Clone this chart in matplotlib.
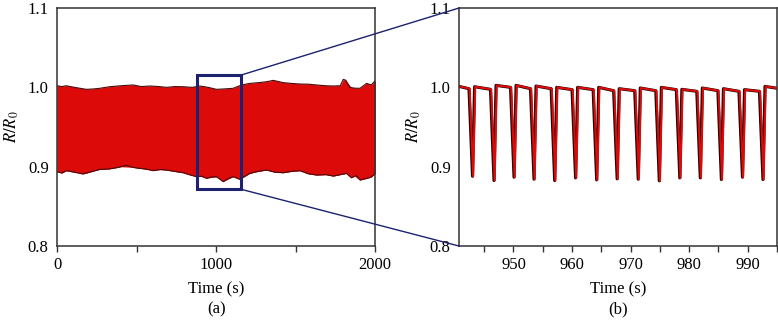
import numpy as np
import matplotlib
matplotlib.use('Agg')
from matplotlib import pyplot as plt
from matplotlib.patches import Rectangle, ConnectionPatch

plt.rcParams['font.family'] = ['Liberation Serif', 'DejaVu Serif']
plt.rcParams['mathtext.fontset'] = 'stix'
plt.rcParams['font.size'] = 12

# Panel (a): envelope of the dense 2000 s signal
env_t = [0, 30, 58, 110, 184, 230, 268, 331, 400, 478, 530, 583, 640, 688, 740, 792, 850,
         897, 950, 1002, 1050, 1107, 1160, 1212, 1270, 1317, 1359, 1420, 1470, 1527, 1580,
         1631, 1690, 1736, 1780, 1799, 1815, 1841, 1870, 1904, 1946, 1975, 2000]
env_top = [1.002, 1.001, 1.002, 1.000, 0.9975, 0.998, 0.9988, 1.0008, 1.002, 1.003, 1.001,
           1.0017, 1.001, 1.000, 1.001, 1.0008, 1.000, 1.0017, 1.000, 0.9975, 0.998, 0.9988,
           1.003, 1.005, 1.006, 1.0071, 1.0088, 1.006, 1.005, 1.0042, 1.004, 1.003, 1.002,
           1.0017, 1.002, 1.010, 1.009, 1.000, 0.999, 0.9988, 1.005, 1.003, 1.0084]
bot_t = [0, 30, 58, 110, 163, 220, 268, 320, 373, 436, 480, 520, 560, 604, 650, 688, 740,
         792, 830, 876, 910, 939, 970, 1002, 1044, 1075, 1107, 1149, 1180, 1212, 1260, 1317,
         1370, 1422, 1470, 1527, 1580, 1631, 1690, 1736, 1780, 1820, 1850, 1880, 1904, 1946,
         1975, 2000]
env_bot = [0.8937, 0.892, 0.895, 0.893, 0.8908, 0.894, 0.8966, 0.897, 0.8987, 0.9017, 0.899,
           0.8979, 0.897, 0.895, 0.8965, 0.8958, 0.894, 0.8924, 0.890, 0.8874, 0.888, 0.8853,
           0.887, 0.8874, 0.8811, 0.885, 0.8874, 0.884, 0.888, 0.8916, 0.894, 0.8958, 0.893,
           0.8924, 0.894, 0.895, 0.891, 0.8895, 0.890, 0.8882, 0.890, 0.8916, 0.886, 0.889,
           0.8832, 0.8853, 0.887, 0.8916]

# Panel (b): zoomed cycles
dip_t = [943.0, 946.67, 950.09, 953.5, 957.03, 960.6, 964.2, 967.7, 971.3, 974.9,
         978.4, 981.9, 985.5, 989.1, 992.6]
dip_min = [0.8879, 0.8825, 0.8867, 0.8842, 0.8825, 0.8858, 0.8833, 0.8846, 0.8842,
           0.8821, 0.8858, 0.8858, 0.8838, 0.8867, 0.8838]
plat_start = [1.0012, 1.0008, 1.0025, 1.0025, 1.0017, 1.0, 1.0, 1.0, 0.9983, 0.9992,
              1.0, 0.9975, 0.9992, 0.9983, 0.9971, 1.0012]
plat_end = [0.9983, 0.9975, 1.0, 0.9983, 0.9983, 0.9971, 0.9971, 0.9958, 0.9958,
            0.9958, 0.9971, 0.995, 0.9958, 0.995, 0.995, 0.9983]

red = '#dd0a0a'
navy = '#1c2270'

# build the zoomed trace from the read levels
t_b = [940.7]
v_b = [plat_start[0]]
for i in range(len(dip_t)):
    t_b += [dip_t[i] - 0.6, dip_t[i], dip_t[i] + 0.35]
    v_b += [plat_end[i], dip_min[i], plat_start[i + 1]]
t_b.append(995.5)
v_b.append(plat_end[-1])

fig = plt.figure(figsize=(7.78, 3.21), dpi=100)
ax1 = fig.add_axes([0.0733, 0.2336, 0.409, 0.7414])
ax2 = fig.add_axes([0.590, 0.2336, 0.4087, 0.7414])

# (a)
top_on_bot = np.interp(bot_t, env_t, env_top)
ax1.fill_between(bot_t, top_on_bot, env_bot, color=red, lw=0)
ax1.fill_between(env_t, env_top, np.interp(env_t, bot_t, env_bot), color=red, lw=0)
ax1.plot(env_t, env_top, color='#4a0a0a', lw=0.8)
ax1.plot(bot_t, env_bot, color='#4a0a0a', lw=0.8)
ax1.set_xlim(0, 2000)
ax1.set_ylim(0.8, 1.1)
ax1.set_xticks([0, 1000, 2000])
ax1.set_xticks([500, 1500], minor=True)
ax1.set_yticks([0.8, 0.9, 1.0, 1.1])
ax1.set_xlabel('Time (s)', labelpad=6)
ax1.set_ylabel(r'$R/R_0$', labelpad=5)
ax1.text(0.5, -0.268, '(a)', transform=ax1.transAxes, ha='center', va='center')

rect = Rectangle((879, 0.8715), 278, 0.144, fill=False, ec=navy, lw=2.2, zorder=5)
ax1.add_patch(rect)

# (b)
ax2.plot(t_b, v_b, color='#1a0505', lw=2.2)
ax2.plot(np.array(t_b) + 0.12, v_b, color=red, lw=1.5)
ax2.set_xlim(940.7, 995.0)
ax2.set_ylim(0.8, 1.1)
ax2.set_xticks([950, 960, 970, 980, 990])
ax2.set_xticks([945, 955, 965, 975, 985, 995], minor=True)
ax2.set_yticks([0.8, 0.9, 1.0, 1.1])
ax2.set_xlabel('Time (s)', labelpad=6)
ax2.set_ylabel(r'$R/R_0$', labelpad=5)
ax2.text(0.5, -0.268, '(b)', transform=ax2.transAxes, ha='center', va='center')

for ax in (ax1, ax2):
    for s in ax.spines.values():
        s.set_color('#333333')
        s.set_linewidth(1.1)
    ax.tick_params(axis='x', which='both', direction='out', length=4, width=1, color='#333333', pad=4)
    ax.tick_params(axis='y', length=0, pad=6)

# connector lines from the box to panel (b)
for yb, ya in ((1.0155, 1.1), (0.8715, 0.8)):
    con = ConnectionPatch(xyA=(1157, yb), coordsA=ax1.transData,
                          xyB=(940.7, ya), coordsB=ax2.transData,
                          color=navy, lw=1.0)
    fig.add_artist(con)

fig.savefig('out.png', dpi=100)
